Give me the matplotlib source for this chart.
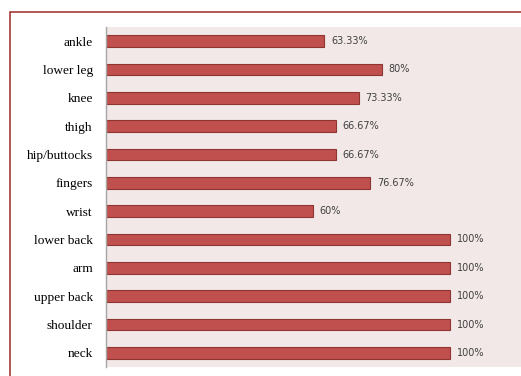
import matplotlib.pyplot as plt
from matplotlib.patches import Rectangle

# data (top to bottom)
parts = ["ankle", "lower leg", "knee", "thigh", "hip/buttocks", "fingers",
         "wrist", "lower back", "arm", "upper back", "shoulder", "neck"]
pct = [63.33, 80, 73.33, 66.67, 66.67, 76.67, 60, 100, 100, 100, 100, 100]

W, H = 521, 376
fig = plt.figure(figsize=(W / 100, H / 100), dpi=100)

# red frame around the chart (only left and top visible)
fig.patches.append(Rectangle((10 / W, -0.1), 1.2, (H - 12) / H + 0.1,
                             transform=fig.transFigure, fill=False,
                             edgecolor="#A33B38", linewidth=1.2))

ax = fig.add_axes([106 / W, 9 / H, (W - 106) / W, 340 / H])
ax.set_facecolor("#F2E8E7")

y = range(len(parts))
ax.barh(y, pct, height=0.42, color="#C0504D", edgecolor="#8E3432", linewidth=0.8)

for i, v in enumerate(pct):
    ax.text(v + 2, i, f"{v:g}%", va="center", ha="left",
            fontsize=7, color="#404040", family="DejaVu Sans")

ax.set_xlim(0, 120.5)
ax.set_ylim(len(parts) - 0.5, -0.5)
ax.set_yticks(list(y))
ax.set_yticklabels(parts, family="Liberation Serif", fontsize=9.6)
ax.tick_params(axis="y", length=0, pad=9.5)
ax.set_xticks([])
for s in ["top", "right", "bottom"]:
    ax.spines[s].set_visible(False)
ax.spines["left"].set_color("#A6A6A6")
ax.spines["left"].set_linewidth(1)

fig.savefig("out.png", dpi=100)
